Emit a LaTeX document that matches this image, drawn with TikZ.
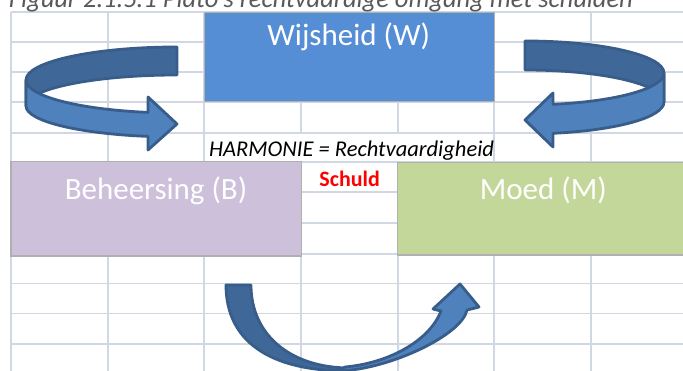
\documentclass[tikz,border=0pt]{standalone}
\usepackage{fontspec}
\setmainfont{Carlito}
\definecolor{gridc}{HTML}{D0D8E4}
\definecolor{wblue}{HTML}{558ED5}
\definecolor{blav}{HTML}{CCC0DA}
\definecolor{mgreen}{HTML}{C4D79B}
\definecolor{boxedge}{HTML}{B0B0B0}
\definecolor{arrline}{HTML}{385D8A}
\definecolor{arrfront}{HTML}{4F81BD}
\definecolor{arrback}{HTML}{3F6899}
\definecolor{titlegray}{HTML}{595959}
\begin{document}
\begin{tikzpicture}[x=1pt,y=-1pt,
  gridline/.style={draw=gridc,line width=1.8pt},
  cellbox/.style={draw=boxedge,line width=1.5pt,inner sep=0pt,outer sep=0pt,anchor=north west},
  arrowpart/.style={draw=arrline,line width=2.8pt,line join=round},
  boxtext/.style={text=white,font=\fontsize{31}{36}\selectfont,inner sep=0pt,anchor=base},
]
\useasboundingbox (0,0) rectangle (683,371);
\fill[white] (0,0) rectangle (683,371);
% grid
\foreach \x in {11,107.7,204.3,301,397.7,494.3,591}
  \draw[gridline] (\x,12.3) -- (\x,380);
\foreach \y in {12.3,42.3,71.8,101.7,132.7,162,192,222.7,254,283.5,313.5,344.3,374.5}
  \draw[gridline] (11,\y) -- (690,\y);
% title
\node[text=titlegray,font=\fontsize{26.5}{30}\selectfont\itshape,inner sep=0pt,anchor=base west] (title) at (8.7,8) {Figuur 2.1.5.1 Plato's rechtvaardige omgang met schulden};
% boxes
\node[cellbox,fill=wblue,minimum width=290pt,minimum height=89pt] (W) at (204.3,12.3) {};
\node[cellbox,fill=blav,minimum width=290.3pt,minimum height=94.3pt] (B) at (11,161.7) {};
\node[cellbox,fill=mgreen,minimum width=290.3pt,minimum height=92.7pt] (M) at (397.7,162.3) {};
\node[boxtext] (wt) at (348.7,45.5) {Wijsheid (W)};
\node[boxtext] (bt) at (156,200) {Beheersing (B)};
\node[boxtext] (mt) at (543.3,200) {Moed (M)};
% merged cell
\fill[white] (205.5,133.8) rectangle (493.2,161);
\node[font=\fontsize{22.5}{26}\selectfont\itshape,inner sep=0pt,anchor=base west] (harm) at (209,156.7) {HARMONIE = Rechtvaardigheid};
\node[text=red,font=\fontsize{22}{26}\selectfont\bfseries,inner sep=0pt,anchor=base] (schuld) at (349.7,186.7) {Schuld};
% left arrow
\path[arrowpart,fill=arrback] (177,47) arc[start angle=-90,end angle=-180,x radius=151,y radius=33] -- (26,106) arc[start angle=180,end angle=270,x radius=151,y radius=31] -- cycle;
\path[arrowpart,fill=arrfront] (26,80) arc[start angle=180,end angle=101.07,x radius=151,y radius=33] -- (148,97) -- (177,124) -- (148,150) -- (148,136.4) arc[start angle=101.07,end angle=180,x radius=151,y radius=31] -- cycle;
% right arrow
\path[arrowpart,fill=arrback] (525,41) arc[start angle=-90,end angle=0,x radius=139,y radius=32] -- (664,102) arc[start angle=0,end angle=-90,x radius=139,y radius=32] -- cycle;
\path[arrowpart,fill=arrfront] (664,73) arc[start angle=0,end angle=78.38,x radius=139,y radius=32] -- (553,93) -- (525,120) -- (553,147) -- (553,133.3) arc[start angle=78.38,end angle=0,x radius=139,y radius=32] -- cycle;
% bottom arrow
\path[arrowpart,fill=arrback] (226,285) -- (251,285) .. controls (251,335) and (290.6,368) .. (350,368) -- (348,371) .. controls (268,371) and (226,340) .. (226,285) -- cycle;
\path[arrowpart,fill=arrfront] (340,371) .. controls (390,369) and (462,335) .. (467,310) -- (479,307) -- (460,284) -- (433,309) -- (441,311) .. controls (430,340) and (390,363) .. (345,367) -- cycle;
\end{tikzpicture}
\end{document}
